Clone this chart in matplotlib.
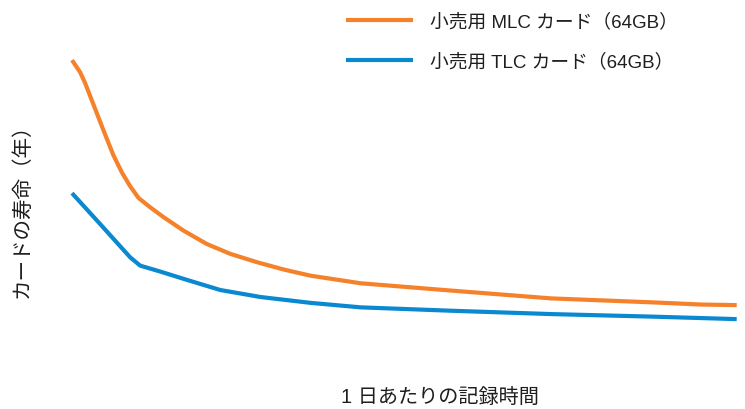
import matplotlib
matplotlib.use("Agg")
import matplotlib.pyplot as plt

plt.rcParams['font.family'] = ['Liberation Sans', 'Noto Sans CJK JP', 'DejaVu Sans']

# Recording hours per day
mlc_hours = [1.0, 1.28, 1.45, 1.74, 2.09, 2.43, 2.72, 3.01, 3.30, 3.71, 4.17,
             4.86, 5.67, 6.48, 7.41, 8.33, 9.26, 10.99, 14.11, 17.58, 21.05,
             22.79, 24.0]
# Card lifetime (years) for retail MLC card
mlc_years = [9.96, 9.53, 9.15, 8.38, 7.45, 6.57, 5.96, 5.46, 5.04, 4.70, 4.35,
             3.87, 3.39, 3.04, 2.74, 2.48, 2.26, 1.99, 1.73, 1.45, 1.31,
             1.23, 1.21]

tlc_hours = [1.0, 1.97, 3.01, 3.36, 4.05, 4.98, 6.13, 7.52, 9.26, 10.99,
             14.11, 17.58, 21.05, 24.0]
# Card lifetime (years) for retail TLC card
tlc_years = [5.21, 4.11, 2.92, 2.62, 2.41, 2.11, 1.75, 1.50, 1.29, 1.13,
             1.01, 0.89, 0.80, 0.71]

series_labels = ['小売用 MLC カード（64GB）', '小売用 TLC カード（64GB）']
x_label = '1 日あたりの記録時間'
y_label = 'カードの寿命（年）'

ORANGE = '#F5822A'
BLUE = '#0A89D0'
TEXT = '#1e1e1e'

fig = plt.figure(figsize=(7.45, 4.10), dpi=100)
ax = fig.add_axes([72 / 745, 70 / 410, (736.7 - 72) / 745, 280 / 410])
ax.plot(mlc_hours, mlc_years, color=ORANGE, lw=3.0, label=series_labels[0],
        clip_on=False, solid_capstyle='butt', solid_joinstyle='round')
ax.plot(tlc_hours, tlc_years, color=BLUE, lw=3.0, label=series_labels[1],
        clip_on=False, solid_capstyle='butt', solid_joinstyle='round')
ax.set_xlim(1, 24)
ax.set_ylim(0, 10)
ax.axis('off')

leg = fig.legend(loc='upper left', bbox_to_anchor=(338 / 745, 1 - 6 / 410),
                 frameon=False, fontsize=13.5, handlelength=3.6,
                 handletextpad=0.9, labelspacing=1.2, borderaxespad=0)
for t in leg.get_texts():
    t.set_color(TEXT)

fig.text(440 / 745, 1 - 397 / 410, x_label, ha='center', va='center',
         fontsize=14.5, color=TEXT)
fig.text(22 / 745, 1 - 206 / 410, y_label, ha='center', va='center',
         rotation=90, fontsize=14.8, color=TEXT)

fig.savefig('out.png', dpi=100)
